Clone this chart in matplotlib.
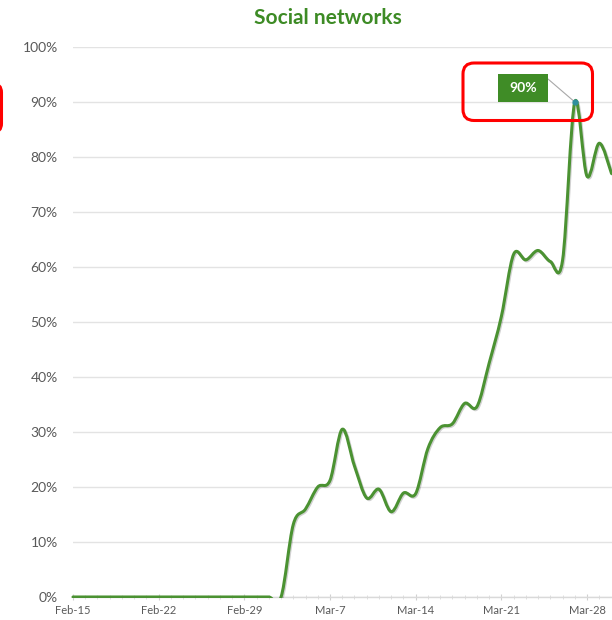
import numpy as np
import pandas as pd
import matplotlib
matplotlib.use("Agg")
import matplotlib.pyplot as plt
import matplotlib.dates as mdates
import matplotlib.patheffects as pe
from matplotlib.path import Path
from matplotlib.patches import PathPatch, Rectangle, FancyBboxPatch
from matplotlib.transforms import Affine2D

# daily share of social networks, Feb 15 -> Mar 30 (2020)
START_DATE = "2020-02-15"
VALUES = [0, 0, 0, 0, 0, 0, 0, 0, 0, 0, 0, 0, 0, 0, 0, 0, 0, 0,
          13.2, 16.0, 20.0, 21.2, 30.5, 23.8, 18.0, 19.6, 15.5, 18.9, 18.8,
          27.0, 30.8, 31.5, 35.2, 34.6, 42.5, 51.0, 62.3, 61.3, 63.0, 61.0,
          61.2, 90.0, 76.5, 82.5, 77.0]
TICK_DATES = ["2020-02-15", "2020-02-22", "2020-02-29", "2020-03-07",
              "2020-03-14", "2020-03-21", "2020-03-28"]
TICK_LABELS = ["Feb-15", "Feb-22", "Feb-29", "Mar-7", "Mar-14", "Mar-21", "Mar-28"]
Y_TICKS = [0, 10, 20, 30, 40, 50, 60, 70, 80, 90, 100]
PEAK_LABEL = "90%"

GREEN = "#4B9232"
TITLE_GREEN = "#3D8B25"
GREY_TXT = "#595959"

dates = pd.date_range(START_DATE, periods=len(VALUES), freq="D")
x = mdates.date2num(dates)
y = np.array(VALUES) / 100.0

W, H = 612, 620
fig = plt.figure(figsize=(W / 100, H / 100), dpi=100)
ax = fig.add_axes([73 / W, 1 - 597 / H, 539 / W, 550 / H])

ax.set_xlim(x[0], x[0] + 44.04)
ax.set_ylim(0, 1)

# smooth line (excel style bezier)
pts = np.column_stack([x, y])
verts = [pts[0]]
codes = [Path.MOVETO]
n = len(pts)
for i in range(n - 1):
    p0 = pts[max(i - 1, 0)]
    p1 = pts[i]
    p2 = pts[i + 1]
    p3 = pts[min(i + 2, n - 1)]
    c1 = p1 + (p2 - p0) / 6.0
    c2 = p2 - (p3 - p1) / 6.0
    verts += [c1, c2, p2]
    codes += [Path.CURVE4] * 3
curve = PathPatch(Path(verts, codes), fill=False, edgecolor=GREEN, lw=2.2,
                  capstyle="round", joinstyle="round", zorder=3)
curve.set_path_effects([pe.SimpleLineShadow(offset=(0.8, -0.8), alpha=0.18, shadow_color="k"),
                        pe.Normal()])
ax.add_patch(curve)
clip = Rectangle((x[0] - 2, -0.0015), 60, 1.5, transform=ax.transData)
curve.set_clip_path(clip)

# peak marker
ipk = int(np.argmax(y))
ax.plot([x[ipk]], [y[ipk]], "o", ms=3.5, color="#2F8F9D", zorder=4)

# axes styling
for s in ["top", "right", "left"]:
    ax.spines[s].set_visible(False)
ax.spines["bottom"].set_color("#D9D9D9")
ax.spines["bottom"].set_linewidth(1.0)
ax.set_yticks([v / 100 for v in Y_TICKS])
ax.set_yticklabels([f"{v}%" for v in Y_TICKS])
ax.yaxis.grid(True, color="#E3E3E3", lw=1.0)
ax.set_axisbelow(True)
ax.tick_params(axis="y", length=0, pad=11, labelsize=10, labelcolor=GREY_TXT)
for t in ax.get_yticklabels():
    t.set_fontfamily("Lato")

ax.set_xticks(mdates.date2num(pd.to_datetime(TICK_DATES)))
ax.set_xticklabels(TICK_LABELS, fontfamily="Lato")
ax.set_xticks(x, minor=True)
ax.tick_params(axis="x", which="major", length=5, direction="inout", color="#D0D0D0",
               pad=3, labelsize=8, labelcolor=GREY_TXT)
ax.tick_params(axis="x", which="minor", length=3, direction="inout", color="#D9D9D9")

fig.text(328 / W, 1 - 18 / H, "Social networks", ha="center", va="center",
         fontsize=15, fontweight="bold", color=TITLE_GREEN, fontfamily="Lato")

# data label for the peak
px = Affine2D().scale(1 / 100) + fig.dpi_scale_trans
fig.add_artist(Rectangle((498, H - 102), 50, 28, transform=px, facecolor="#3F8C26",
                         edgecolor="none", zorder=5))
fig.text(523 / W, 1 - 88 / H, PEAK_LABEL, ha="center", va="center", color="white",
         fontsize=10, fontweight="bold", fontfamily="Lato", zorder=6)
ax.annotate("", xy=(x[ipk], y[ipk]), xytext=(548 / W, 1 - 79 / H),
            textcoords="figure fraction",
            arrowprops=dict(arrowstyle="-", color="#A8A8A8", lw=0.8,
                            shrinkA=0, shrinkB=1.5))

# red highlight frames
fig.add_artist(FancyBboxPatch((463, H - 120.5), 129.5, 57.5, transform=px,
                              boxstyle="round,pad=0,rounding_size=11",
                              facecolor="none", edgecolor="#FF0000", lw=2.2, zorder=7))
fig.add_artist(FancyBboxPatch((-40, H - 132.5), 41.5, 49, transform=px,
                              boxstyle="round,pad=0,rounding_size=9",
                              facecolor="none", edgecolor="#FF0000", lw=2.2, zorder=7))

fig.savefig("out.png", dpi=100)
